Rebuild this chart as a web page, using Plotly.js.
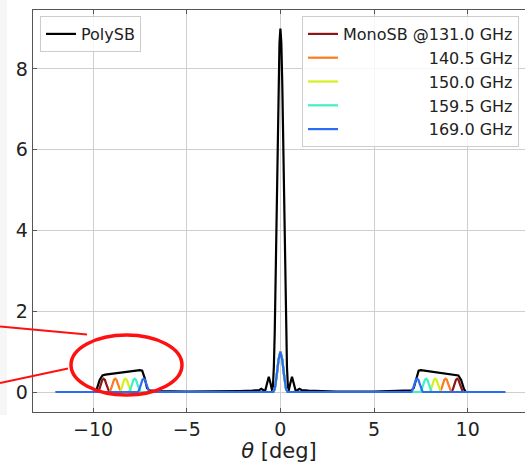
<!DOCTYPE html>
<html>
<head>
<meta charset="utf-8">
<script src="https://cdn.plot.ly/plotly-3.0.1.min.js"></script>
<style>html,body{margin:0;padding:0;background:#fff;}#plot{width:525px;height:463px;}</style>
</head>
<body>
<div id="plot"></div>
<script>
// ---- data ----
const polyName = "PolySB";
const polyX = [-12, -9.9, -9.8, -9.65, -9.5, -9.35, -7.5, -7.38, -7.25, -7.12, -7.0, -6.6, -5.0, -3.0, -2.2, -1.5, -1.25, -1.12, -1.02, -0.92, -0.82, -0.72, -0.62, -0.52, -0.44, -0.4, -0.35, -0.3, -0.25, -0.2, -0.15, -0.1, -0.05, 0, 0.05, 0.1, 0.15, 0.2, 0.25, 0.3, 0.35, 0.4, 0.44, 0.52, 0.62, 0.72, 0.82, 0.92, 1.02, 1.12, 1.25, 1.5, 2.2, 3.0, 5.0, 6.6, 7.0, 7.12, 7.25, 7.38, 7.5, 9.35, 9.5, 9.65, 9.8, 9.9, 12];
const polyY = [0.0, 0.0, 0.08, 0.3, 0.41, 0.43, 0.54, 0.53, 0.35, 0.1, 0.04, 0.02, 0.008, 0.01, 0.025, 0.035, 0.04, 0.05, 0.08, 0.05, 0.02, 0.2, 0.38, 0.2, 0.03, 0.13, 0.62, 1.54, 2.87, 4.48, 6.16, 7.63, 8.64, 9.0, 8.64, 7.63, 6.16, 4.48, 2.87, 1.54, 0.62, 0.13, 0.03, 0.2, 0.38, 0.2, 0.02, 0.05, 0.08, 0.05, 0.04, 0.035, 0.025, 0.01, 0.008, 0.02, 0.04, 0.1, 0.35, 0.53, 0.54, 0.43, 0.41, 0.3, 0.08, 0.0, 0.0];

const monoNames = ["MonoSB @131.0 GHz", "140.5 GHz", "150.0 GHz", "159.5 GHz", "169.0 GHz"];
const monoColors = ["#8a1616", "#ff7a1c", "#d6f01c", "#40f0c6", "#2a6cf5"];

const mono131X = [-12, -9.74, -9.66, -9.58, -9.51, -9.44, -9.37, -9.3, -9.22, -9.14, -0.38, -0.3, -0.2, -0.1, 0, 0.1, 0.2, 0.3, 0.38, 9.14, 9.22, 9.3, 9.37, 9.44, 9.51, 9.58, 9.66, 9.74, 12];
const mono131Y = [0, 0, 0.08, 0.2, 0.3, 0.33, 0.3, 0.2, 0.08, 0, 0, 0.08, 0.4, 0.8, 1.0, 0.8, 0.4, 0.08, 0, 0, 0.08, 0.2, 0.3, 0.33, 0.3, 0.2, 0.08, 0, 0];

const mono140X = [-12, -9.12, -9.04, -8.96, -8.89, -8.82, -8.75, -8.68, -8.6, -8.52, -0.38, -0.3, -0.2, -0.1, 0, 0.1, 0.2, 0.3, 0.38, 8.52, 8.6, 8.68, 8.75, 8.82, 8.89, 8.96, 9.04, 9.12, 12];
const mono140Y = [0, 0, 0.08, 0.2, 0.3, 0.33, 0.3, 0.2, 0.08, 0, 0, 0.08, 0.4, 0.8, 1.0, 0.8, 0.4, 0.08, 0, 0, 0.08, 0.2, 0.3, 0.33, 0.3, 0.2, 0.08, 0, 0];

const mono150X = [-12, -8.57, -8.49, -8.41, -8.34, -8.27, -8.2, -8.13, -8.05, -7.97, -0.38, -0.3, -0.2, -0.1, 0, 0.1, 0.2, 0.3, 0.38, 7.97, 8.05, 8.13, 8.2, 8.27, 8.34, 8.41, 8.49, 8.57, 12];
const mono150Y = [0, 0, 0.08, 0.2, 0.3, 0.33, 0.3, 0.2, 0.08, 0, 0, 0.08, 0.4, 0.8, 1.0, 0.8, 0.4, 0.08, 0, 0, 0.08, 0.2, 0.3, 0.33, 0.3, 0.2, 0.08, 0, 0];

const mono159X = [-12, -8.08, -8.0, -7.92, -7.85, -7.78, -7.71, -7.64, -7.56, -7.48, -0.38, -0.3, -0.2, -0.1, 0, 0.1, 0.2, 0.3, 0.38, 7.48, 7.56, 7.64, 7.71, 7.78, 7.85, 7.92, 8.0, 8.08, 12];
const mono159Y = [0, 0, 0.08, 0.2, 0.3, 0.33, 0.3, 0.2, 0.08, 0, 0, 0.08, 0.4, 0.8, 1.0, 0.8, 0.4, 0.08, 0, 0, 0.08, 0.2, 0.3, 0.33, 0.3, 0.2, 0.08, 0, 0];

const mono169X = [-12, -7.6, -7.52, -7.44, -7.37, -7.3, -7.23, -7.16, -7.08, -7.0, -0.38, -0.3, -0.2, -0.1, 0, 0.1, 0.2, 0.3, 0.38, 7.0, 7.08, 7.16, 7.23, 7.3, 7.37, 7.44, 7.52, 7.6, 12];
const mono169Y = [0, 0, 0.08, 0.2, 0.3, 0.33, 0.3, 0.2, 0.08, 0, 0, 0.08, 0.4, 0.8, 1.0, 0.8, 0.4, 0.08, 0, 0, 0.08, 0.2, 0.3, 0.33, 0.3, 0.2, 0.08, 0, 0];

const monoX = [mono131X, mono140X, mono150X, mono159X, mono169X];
const monoY = [mono131Y, mono140Y, mono150Y, mono159Y, mono169Y];

const xTicks = [-10, -5, 0, 5, 10];
const yTicks = [0, 2, 4, 6, 8];

// ---- layout helpers (pixel -> paper) ----
const W = 525, H = 463, ML = 33, MR = 0, MT = 10, MB = 51;
const PW = W - ML - MR, PH = H - MT - MB;
const px = x => (x - ML) / PW;
const py = y => (H - MB - y) / PH;

const traces = [{
  x: polyX, y: polyY, type: 'scatter', mode: 'lines', name: polyName,
  line: {color: '#000000', width: 2.2}, legend: 'legend'
}];
for (let i = 0; i < monoNames.length; i++) {
  const label = i === 0 ? monoNames[i]
    : '<span style="color:rgba(0,0,0,0)">MonoSB @</span>' + monoNames[i];
  traces.push({
    x: monoX[i], y: monoY[i], type: 'scatter', mode: 'lines', name: label,
    line: {color: monoColors[i], width: 2.2}, legend: 'legend2'
  });
}

const axisCommon = {
  showline: true, linecolor: '#555', linewidth: 1.3,
  ticks: 'inside', ticklen: 4, tickcolor: '#555', tickwidth: 1,
  showgrid: true, gridcolor: '#cfcfcf', gridwidth: 1,
  zeroline: false,
  tickfont: {family: 'DejaVu Sans', size: 19, color: '#222'}
};

const legendFont = {family: 'DejaVu Sans', size: 16, color: '#222'};

const layout = {
  width: W, height: H,
  margin: {l: ML, r: MR, t: MT, b: MB},
  paper_bgcolor: '#ffffff', plot_bgcolor: '#ffffff',
  font: {family: 'DejaVu Sans', color: '#222'},
  xaxis: Object.assign({}, axisCommon, {
    range: [-13.21, 13.06], tickvals: xTicks, mirror: 'ticks',
    title: {text: '<i>θ</i> [deg]', font: {family: 'DejaVu Sans', size: 21, color: '#222'}, standoff: 4}
  }),
  yaxis: Object.assign({}, axisCommon, {
    range: [-0.495, 9.46], tickvals: yTicks, mirror: false
  }),
  showlegend: true,
  legend: {
    x: px(40), y: py(16), xanchor: 'left', yanchor: 'top',
    bgcolor: 'rgba(255,255,255,0.8)', bordercolor: '#cccccc', borderwidth: 1,
    font: legendFont
  },
  legend2: {
    x: px(519), y: py(16), xanchor: 'right', yanchor: 'top',
    bgcolor: 'rgba(255,255,255,0.8)', bordercolor: '#cccccc', borderwidth: 1,
    font: legendFont
  },
  shapes: [
    {type: 'rect', xref: 'paper', yref: 'paper', x0: px(0), x1: px(7), y0: py(415), y1: py(0),
     fillcolor: '#f6f6f6', line: {width: 0}, layer: 'below'},
    {type: 'line', xref: 'paper', yref: 'paper', x0: px(0), y0: py(326.5), x1: px(87), y1: py(334.5),
     line: {color: '#ff1010', width: 2}},
    {type: 'line', xref: 'paper', yref: 'paper', x0: px(0), y0: py(383), x1: px(68), y1: py(368.5),
     line: {color: '#ff1010', width: 2}},
    {type: 'circle', xref: 'paper', yref: 'paper', x0: px(71), x1: px(182), y0: py(395), y1: py(335),
     line: {color: '#ff1010', width: 3.5}}
  ]
};

Plotly.newPlot('plot', traces, layout, {displayModeBar: false, staticPlot: true});
</script>
</body>
</html>
